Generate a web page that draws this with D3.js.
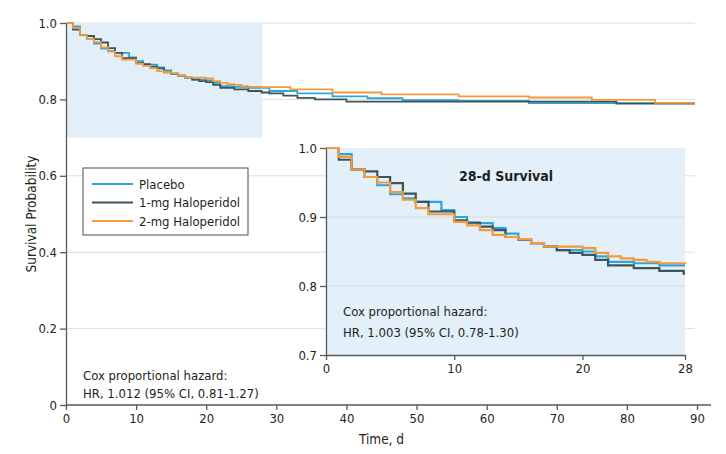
<!DOCTYPE html>
<html>
<head>
<meta charset="utf-8">
<script src="https://cdn.jsdelivr.net/npm/d3@7/dist/d3.min.js"></script>
<style>
  body { margin: 0; background: #fff; }
  svg text {
    font-family: "Liberation Sans Narrow", "DejaVu Sans Condensed", "Roboto Condensed", "Open Sans", sans-serif;
    fill: #231f20;
  }
</style>
</head>
<body>
<svg id="chart" width="726" height="454"></svg>
<script>
// groups and colours
const groups = ["Placebo", "1-mg Haloperidol", "2-mg Haloperidol"];
const colors = ["#2ba6dd", "#3d5558", "#f29a3c"];

// Kaplan-Meier steps (day, survival)
const placeboDays = [0, 1, 2, 3, 4, 5, 6, 7, 9, 10, 11, 13, 14, 15, 16, 17, 18, 20, 21, 22, 24, 26, 29, 33, 38, 43, 48, 56, 66, 89.7];
const placeboSurv = [1, .991, .969, .958, .946, .933, .927, .922, .910, .900, .891, .884, .876, .868, .862, .857, .852, .850, .843, .835, .833, .830, .822, .816, .808, .803, .798, .796, .790, .790];

const mg1Days = [0, 1, 2, 3, 4, 5, 6, 7, 8, 10, 11, 12, 13, 14, 15, 16, 17, 18, 19, 20, 21, 22, 24, 26, 27.9, 29, 31, 33, 35.5, 40, 78.5, 89.7];
const mg1Surv = [1, .983, .969, .966, .958, .949, .934, .922, .908, .895, .892, .886, .881, .871, .867, .862, .857, .852, .848, .845, .838, .830, .826, .822, .818, .816, .810, .804, .800, .794, .789, .789];

const mg2Days = [0, 1, 2, 3, 4, 5, 6, 7, 8, 10, 11, 12, 13, 14, 15, 16, 17, 20, 21, 22, 23, 24, 25, 26, 28, 32, 38, 45, 56, 66, 75, 84, 89.7];
const mg2Surv = [1, .987, .969, .958, .950, .936, .925, .913, .904, .893, .888, .881, .874, .871, .868, .862, .857, .855, .848, .843, .840, .838, .835, .833, .832, .826, .818, .813, .808, .805, .799, .791, .791];

const mainXTicks = [0, 10, 20, 30, 40, 50, 60, 70, 80, 90];
const mainYTicks = [0, 0.2, 0.4, 0.6, 0.8, 1.0];
const insetXTicks = [0, 10, 20, 28];
const insetYTicks = [0.7, 0.8, 0.9, 1.0];

const series = [
  { name: groups[0], color: colors[0], pts: placeboDays.map((d, i) => ({ t: d, s: placeboSurv[i] })) },
  { name: groups[1], color: colors[1], pts: mg1Days.map((d, i) => ({ t: d, s: mg1Surv[i] })) },
  { name: groups[2], color: colors[2], pts: mg2Days.map((d, i) => ({ t: d, s: mg2Surv[i] })) }
];

const svg = d3.select("#chart");
const gridColor = "#dedede";
const axisColor = "#58595b";

// ---- main plot ----
const x = d3.scaleLinear().domain([0, 90]).range([66, 697]);
const y = d3.scaleLinear().domain([0, 1]).range([405, 23]);

// gridlines
svg.append("g").selectAll("line")
  .data(mainYTicks.filter(d => d > 0))
  .enter().append("line")
  .attr("x1", x(0)).attr("x2", x(89.7))
  .attr("y1", d => y(d)).attr("y2", d => y(d))
  .attr("stroke", gridColor).attr("stroke-width", 1);

// shaded 28-d window
svg.append("rect")
  .attr("x", x(0)).attr("y", y(1))
  .attr("width", x(28) - x(0)).attr("height", y(0.7) - y(1))
  .attr("fill", "#e2eff9");

const mainLine = d3.line().curve(d3.curveStepAfter)
  .x(d => x(d.t)).y(d => y(d.s));

svg.append("g").selectAll("path")
  .data(series)
  .enter().append("path")
  .attr("d", d => mainLine(d.pts))
  .attr("fill", "none")
  .attr("stroke", d => d.color)
  .attr("stroke-width", 1.8);

// axes
const yAxis = svg.append("g")
  .attr("transform", `translate(${x(0)},0)`)
  .call(d3.axisLeft(y).tickValues(mainYTicks).tickSizeInner(6).tickSizeOuter(0)
    .tickFormat(d => d === 0 ? "0" : d3.format(".1f")(d)));
const xAxis = svg.append("g")
  .attr("transform", `translate(0,${y(0)})`)
  .call(d3.axisBottom(x).tickValues(mainXTicks).tickSizeInner(5).tickSizeOuter(0));
xAxis.select(".domain").attr("d", `M${x(0)},0H${x(90) + 14}`);

[yAxis, xAxis].forEach(g => {
  g.select(".domain").attr("stroke", axisColor).attr("stroke-width", 1.3);
  g.selectAll(".tick line").attr("stroke", axisColor).attr("stroke-width", 1.3);
  g.selectAll(".tick text").attr("font-size", 13).attr("fill", "#231f20")
    .style("font-family", null);
});
yAxis.selectAll(".tick text").attr("x", -9);
xAxis.selectAll(".tick text").attr("y", 9);

svg.append("text")
  .attr("transform", `translate(31,${(y(0) + y(1)) / 2}) rotate(-90)`)
  .attr("text-anchor", "middle").attr("dy", "0.35em")
  .attr("font-size", 13.5)
  .text("Survival Probability");

svg.append("text")
  .attr("x", (x(0) + x(90)) / 2).attr("y", 444)
  .attr("text-anchor", "middle")
  .attr("font-size", 13.5)
  .text("Time, d");

// legend
const legend = svg.append("g");
legend.append("rect")
  .attr("x", 83).attr("y", 168).attr("width", 165).attr("height", 67)
  .attr("fill", "#fff").attr("stroke", "#4d4d4f").attr("stroke-width", 1);
const li = legend.selectAll(".item").data(series).enter().append("g")
  .attr("transform", (d, i) => `translate(0,${184 + i * 18.5})`);
li.append("line").attr("x1", 92).attr("x2", 133)
  .attr("stroke", d => d.color).attr("stroke-width", 2);
li.append("text").attr("x", 139).attr("dy", "0.35em")
  .attr("font-size", 13).text(d => d.name);

// main annotation
svg.append("text").attr("x", 83).attr("y", 380).attr("font-size", 13)
  .text("Cox proportional hazard:");
svg.append("text").attr("x", 83).attr("y", 398).attr("font-size", 13)
  .text("HR, 1.012 (95% CI, 0.81-1.27)");

// ---- inset ----
const ix = d3.scaleLinear().domain([0, 28]).range([326, 685]);
const iy = d3.scaleLinear().domain([0.7, 1]).range([355, 148]);

svg.append("rect")
  .attr("x", ix(0)).attr("y", iy(1))
  .attr("width", ix(28) - ix(0)).attr("height", iy(0.7) - iy(1))
  .attr("fill", "#e3eff9");

svg.append("g").selectAll("line")
  .data([0.8, 0.9])
  .enter().append("line")
  .attr("x1", ix(0)).attr("x2", ix(28))
  .attr("y1", d => iy(d)).attr("y2", d => iy(d))
  .attr("stroke", "#d3dde4").attr("stroke-width", 1);

const insetLine = d3.line().curve(d3.curveStepAfter)
  .x(d => ix(d.t)).y(d => iy(d.s));

svg.append("g").selectAll("path")
  .data(series)
  .enter().append("path")
  .attr("d", d => {
    const pts = d.pts.filter(p => p.t <= 28);
    const last = pts[pts.length - 1];
    return insetLine(pts.concat([{ t: 28, s: last.s }]));
  })
  .attr("fill", "none")
  .attr("stroke", d => d.color)
  .attr("stroke-width", 2.2);

const iyAxis = svg.append("g")
  .attr("transform", `translate(${ix(0)},0)`)
  .call(d3.axisLeft(iy).tickValues(insetYTicks).tickSizeInner(6).tickSizeOuter(0)
    .tickFormat(d3.format(".1f")));
const ixAxis = svg.append("g")
  .attr("transform", `translate(0,${iy(0.7)})`)
  .call(d3.axisBottom(ix).tickValues(insetXTicks).tickSizeInner(5).tickSizeOuter(0));

[iyAxis, ixAxis].forEach(g => {
  g.select(".domain").attr("stroke", axisColor).attr("stroke-width", 1.3);
  g.selectAll(".tick line").attr("stroke", axisColor).attr("stroke-width", 1.3);
  g.selectAll(".tick text").attr("font-size", 13).attr("fill", "#231f20")
    .style("font-family", null);
});
iyAxis.selectAll(".tick text").attr("x", -9);
ixAxis.selectAll(".tick text").attr("y", 9);

svg.append("text")
  .attr("x", 506).attr("y", 181)
  .attr("text-anchor", "middle")
  .attr("font-size", 14).attr("font-weight", "bold")
  .text("28-d Survival");

svg.append("text").attr("x", 343).attr("y", 316).attr("font-size", 13)
  .text("Cox proportional hazard:");
svg.append("text").attr("x", 343).attr("y", 337).attr("font-size", 13)
  .text("HR, 1.003 (95% CI, 0.78-1.30)");
</script>
</body>
</html>
